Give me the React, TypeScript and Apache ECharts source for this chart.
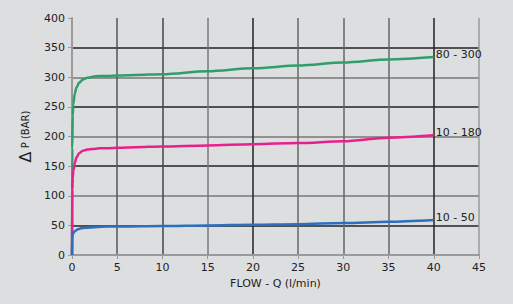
import React, { useEffect, useRef } from "react";
import * as echarts from "echarts";

const xTicks = [0, 5, 10, 15, 20, 25, 30, 35, 40, 45];
const seriesNames = ["80 - 300", "10 - 180", "10 - 50"];
const seriesColors = ["#2f9e6a", "#e8208c", "#2c6fbd"];

const flowGreen = [0, 0.03, 0.08, 0.15, 0.3, 0.5, 0.8, 1.2, 1.7, 2.3, 3, 4, 5, 7, 10, 15, 20, 25, 30, 35, 40];
const pGreen = [0, 180, 235, 255, 272, 283, 291, 296, 299, 301, 302, 302, 303, 304, 305, 310, 315, 320, 325, 330, 334];

const flowPink = [0, 0.03, 0.08, 0.15, 0.3, 0.5, 0.8, 1.2, 1.7, 2.3, 3, 4, 5, 7, 10, 15, 20, 25, 30, 35, 40];
const pPink = [0, 110, 130, 142, 155, 165, 172, 176, 178, 179, 180, 180, 181, 182, 183, 185, 187, 189, 192, 198, 202];

const flowBlue = [0, 0.03, 0.08, 0.15, 0.3, 0.6, 1, 1.5, 2.5, 4, 5, 10, 15, 20, 25, 30, 35, 40];
const pBlue = [0, 28, 34, 37, 40, 43, 45, 46, 47, 48, 48, 49, 50, 51, 52, 54, 56, 59];

const App: React.FC = () => {
  const ref = useRef<HTMLDivElement>(null);
  useEffect(() => {
    document.body.style.margin = "0";
    const chart = echarts.init(ref.current!, null, { renderer: "svg" });
    const flows = [flowGreen, flowPink, flowBlue];
    const ps = [pGreen, pPink, pBlue];
    const font = "DejaVu Sans";
    chart.setOption({
      animation: false,
      backgroundColor: "#dddee0",
      grid: { left: 72, right: 34, top: 18, bottom: 49 },
      xAxis: {
        type: "value",
        min: xTicks[0],
        max: xTicks[xTicks.length - 1],
        interval: 5,
        name: "FLOW - Q (l/min)",
        nameLocation: "middle",
        nameGap: 22,
        nameTextStyle: { color: "#222", fontSize: 11, fontFamily: font },
        axisLine: { show: true, onZero: false, lineStyle: { color: "#9a9a9a", width: 2 } },
        axisTick: { show: true, length: 4, lineStyle: { color: "#9a9a9a" } },
        axisLabel: { color: "#222", fontSize: 11, fontFamily: font, margin: 7 },
        splitLine: {
          show: true,
          lineStyle: {
            width: 1.5,
            color: ["#9a9a9a", "#555", "#444", "#777", "#222", "#666", "#666", "#666", "#222", "#9a9a9a"],
          },
        },
      },
      yAxis: {
        type: "value",
        min: 0,
        max: 400,
        interval: 50,
        name: "{d|Δ} P (BAR)",
        nameLocation: "middle",
        nameGap: 38,
        nameRotate: 90,
        nameTextStyle: {
          color: "#222",
          fontSize: 10,
          fontFamily: font,
          rich: { d: { fontSize: 16, fontFamily: font, color: "#222" } },
        },
        axisLine: { show: true, lineStyle: { color: "#9a9a9a", width: 2 } },
        axisTick: { show: true, length: 4, lineStyle: { color: "#9a9a9a" } },
        axisLabel: { color: "#222", fontSize: 11, fontFamily: font, margin: 7 },
        splitLine: {
          show: true,
          lineStyle: {
            width: 1.5,
            color: ["#9a9a9a", "#222", "#777", "#222", "#777", "#222", "#777", "#222", "transparent"],
          },
        },
      },
      series: seriesNames.map((name, i) => ({
        name,
        type: "line",
        data: flows[i].map((x, j) => [x, ps[i][j]]),
        showSymbol: false,
        smooth: 0.3,
        smoothMonotone: "x",
        lineStyle: { color: seriesColors[i], width: 2.5 },
        endLabel: {
          show: true,
          formatter: name,
          color: "#222",
          fontSize: 11,
          fontFamily: font,
          distance: 2,
          offset: [0, -3],
        },
      })),
    });
    return () => chart.dispose();
  }, []);
  return <div ref={ref} style={{ width: 513, height: 304 }} />;
};

export default App;
